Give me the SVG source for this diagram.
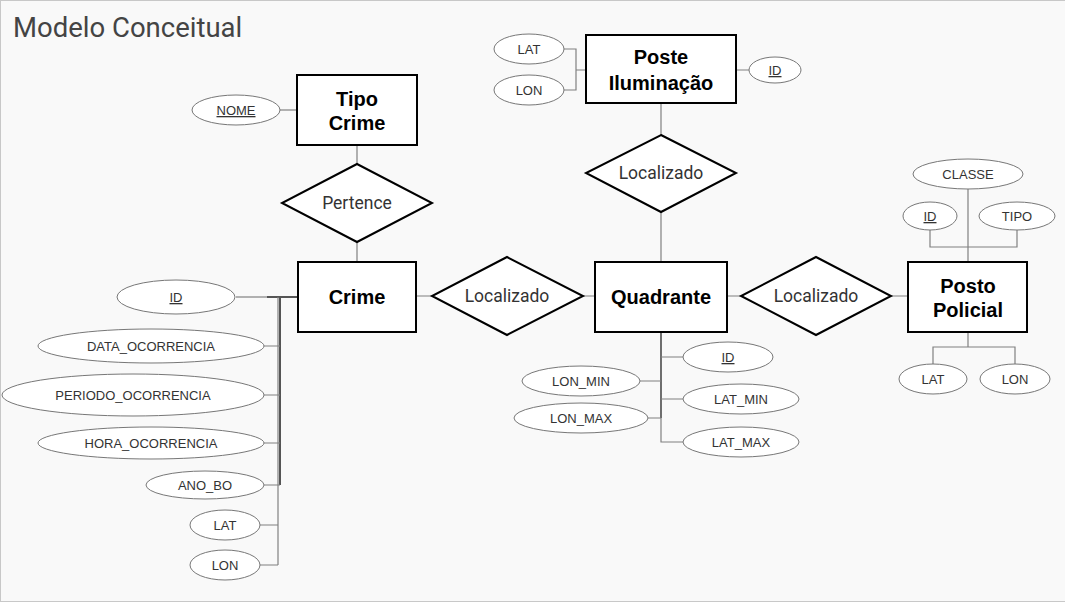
<svg xmlns="http://www.w3.org/2000/svg" width="1065" height="603" viewBox="0 0 1065 603">
<style>
.ent{fill:#fff;stroke:#000;stroke-width:2}
.rel{fill:#fff;stroke:#000;stroke-width:2}
.att{fill:#fff;stroke:#777;stroke-width:1}
.et{font-family:"Liberation Sans",Arial,sans-serif;font-weight:bold;font-size:20px;fill:#000;text-anchor:middle}
.rt{font-family:Roboto,"Liberation Sans",sans-serif;font-size:17.5px;fill:#333;text-anchor:middle}
.at{font-family:"Liberation Sans",Arial,sans-serif;font-size:13px;fill:#333;text-anchor:middle}
.u{text-decoration:underline}
.ln{fill:none;stroke:#808080;stroke-width:1.2}
.dk{fill:none;stroke:#555;stroke-width:2}
</style>
<rect x="0.5" y="0.5" width="1070" height="601" fill="#f9f9f9" stroke="#c8c8c8" stroke-width="1"/>
<text x="13" y="37" font-family="Roboto,'Liberation Sans',sans-serif" font-size="27.5" fill="#444">Modelo Conceitual</text>

<g id="connectors">
  <path class="ln" d="M280,110 H297"/>
  <path class="ln" d="M357,145 V164 M357,242 V262"/>
  <path class="ln" d="M236,297 H267"/>
  <path class="dk" d="M267,297 H298"/>
  <path class="dk" d="M280,297 V485"/>
  <path class="ln" d="M278,297 V565"/>
  <path class="ln" d="M264,346 H280 M264,395 H280 M264,443 H280 M264,485 H280 M260,525 H278 M260,565 H278"/>
  <path class="ln" d="M416,296 H432 M583,296 H595"/>
  <path class="ln" d="M563,49 H576 V90 H563 M576,70 H586 M736,70 H749"/>
  <path class="ln" d="M661,103 V135 M661,212 V262"/>
  <path class="dk" d="M661,332 V418"/>
  <path class="ln" d="M661,332 V442 H683 M661,357 H683 M640,381 H661 M661,399 H683 M648,418 H661"/>
  <path class="ln" d="M727,296 H741 M891,296 H908"/>
  <path class="ln" d="M968,189 V262 M930,230 V247 H1017 V230"/>
  <path class="ln" d="M968,332 V347 M933,364 V347 H1015 V364"/>
</g>

<g id="tipo-crime">
  <rect class="ent" x="297" y="75" width="120" height="70"/>
  <text class="et" x="357" y="106">Tipo</text>
  <text class="et" x="357" y="130">Crime</text>
</g>
<g id="attr-nome"><ellipse class="att" cx="236" cy="110" rx="44" ry="15"/><text class="at u" x="236" y="115">NOME</text></g>
<g id="rel-pertence">
  <polygon class="rel" points="357,164 432,203 357,242 282,203"/>
  <text class="rt" x="357" y="209">Pertence</text>
</g>

<g id="crime">
  <rect class="ent" x="298" y="262" width="118" height="70"/>
  <text class="et" x="357" y="304">Crime</text>
</g>
<g id="crime-id"><ellipse class="att" cx="176" cy="297" rx="59" ry="17"/><text class="at u" x="176" y="302">ID</text></g>
<g id="crime-data"><ellipse class="att" cx="151" cy="346" rx="113" ry="17"/><text class="at" x="151" y="351">DATA_OCORRENCIA</text></g>
<g id="crime-periodo"><ellipse class="att" cx="133" cy="395" rx="131" ry="21"/><text class="at" x="133" y="400">PERIODO_OCORRENCIA</text></g>
<g id="crime-hora"><ellipse class="att" cx="151" cy="443" rx="113" ry="16"/><text class="at" x="151" y="448">HORA_OCORRENCIA</text></g>
<g id="crime-ano"><ellipse class="att" cx="205" cy="485" rx="59" ry="14"/><text class="at" x="205" y="490">ANO_BO</text></g>
<g id="crime-lat"><ellipse class="att" cx="225" cy="525" rx="35" ry="15"/><text class="at" x="225" y="530">LAT</text></g>
<g id="crime-lon"><ellipse class="att" cx="225" cy="565" rx="35" ry="15"/><text class="at" x="225" y="570">LON</text></g>

<g id="rel-localizado-crime">
  <polygon class="rel" points="507,257 583,296 507,335 432,296"/>
  <text class="rt" x="507" y="302">Localizado</text>
</g>

<g id="quadrante">
  <rect class="ent" x="595" y="262" width="132" height="70"/>
  <text class="et" x="661" y="304">Quadrante</text>
</g>
<g id="quad-id"><ellipse class="att" cx="728" cy="357" rx="45" ry="15"/><text class="at u" x="728" y="362">ID</text></g>
<g id="quad-lonmin"><ellipse class="att" cx="581" cy="381" rx="59" ry="15"/><text class="at" x="581" y="386">LON_MIN</text></g>
<g id="quad-latmin"><ellipse class="att" cx="741" cy="399" rx="58" ry="15"/><text class="at" x="741" y="404">LAT_MIN</text></g>
<g id="quad-lonmax"><ellipse class="att" cx="581" cy="418" rx="67" ry="15"/><text class="at" x="581" y="423">LON_MAX</text></g>
<g id="quad-latmax"><ellipse class="att" cx="741" cy="442" rx="58" ry="15"/><text class="at" x="741" y="447">LAT_MAX</text></g>

<g id="poste">
  <rect class="ent" x="586" y="35" width="150" height="68"/>
  <text class="et" x="661" y="64">Poste</text>
  <text class="et" x="661" y="90">Iluminação</text>
</g>
<g id="poste-lat"><ellipse class="att" cx="529" cy="49" rx="35" ry="15"/><text class="at" x="529" y="54">LAT</text></g>
<g id="poste-lon"><ellipse class="att" cx="529" cy="90" rx="35" ry="15"/><text class="at" x="529" y="95">LON</text></g>
<g id="poste-id"><ellipse class="att" cx="775" cy="70" rx="26" ry="13"/><text class="at u" x="775" y="75">ID</text></g>
<g id="rel-localizado-poste">
  <polygon class="rel" points="661,135 736,173 661,212 586,173"/>
  <text class="rt" x="661" y="179">Localizado</text>
</g>

<g id="rel-localizado-posto">
  <polygon class="rel" points="816,257 891,296 816,335 741,296"/>
  <text class="rt" x="816" y="302">Localizado</text>
</g>
<g id="posto">
  <rect class="ent" x="908" y="262" width="119" height="70"/>
  <text class="et" x="968" y="293">Posto</text>
  <text class="et" x="968" y="317">Policial</text>
</g>
<g id="posto-classe"><ellipse class="att" cx="968" cy="174" rx="55" ry="15"/><text class="at" x="968" y="179">CLASSE</text></g>
<g id="posto-id"><ellipse class="att" cx="930" cy="216" rx="27" ry="14"/><text class="at u" x="930" y="221">ID</text></g>
<g id="posto-tipo"><ellipse class="att" cx="1017" cy="216" rx="38" ry="14"/><text class="at" x="1017" y="221">TIPO</text></g>
<g id="posto-lat"><ellipse class="att" cx="933" cy="379" rx="34" ry="15"/><text class="at" x="933" y="384">LAT</text></g>
<g id="posto-lon"><ellipse class="att" cx="1015" cy="379" rx="35" ry="15"/><text class="at" x="1015" y="384">LON</text></g>
</svg>
